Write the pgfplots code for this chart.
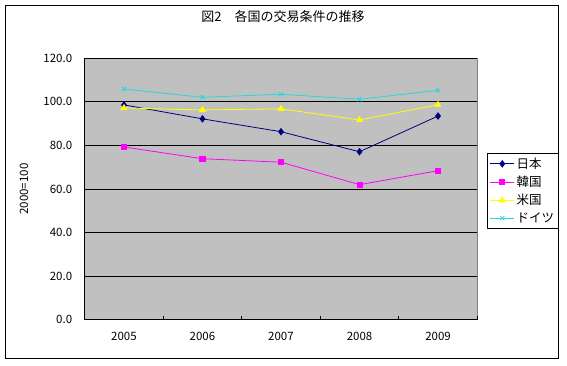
\documentclass[border=0pt]{standalone}
\usepackage{fontspec}
\setmainfont{Noto Sans CJK JP}
\usepackage{pgfplots}
\pgfplotsset{compat=1.18}
\definecolor{bg}{RGB}{192,192,192}
\definecolor{bordergray}{RGB}{128,128,128}
\definecolor{cjp}{RGB}{0,0,128}
\definecolor{ckr}{RGB}{255,0,255}
\definecolor{cus}{RGB}{255,255,0}
\definecolor{cde}{RGB}{40,215,220}
\begin{document}
\begin{tikzpicture}
\path (0pt,0pt) rectangle (567pt,365pt);
\draw[line width=0.9pt] (5.3pt,6.7pt) rectangle (558.3pt,359.7pt);
\begin{axis}[
  at={(84.7pt,45.3pt)}, anchor=south west,
  scale only axis, width=392.6pt, height=261.4pt,
  xmin=0.5, xmax=5.5, ymin=0, ymax=120,
  enlargelimits=false,
  xtick={0.5,1.5,...,5.5}, x tick label as interval,
  xticklabels={2005,2006,2007,2008,2009},
  ytick={0,20,...,120},
  yticklabel style={/pgf/number format/fixed, /pgf/number format/fixed zerofill, /pgf/number format/precision=1, xshift=-9pt},
  /pgf/number format/assume math mode=true,
  ticklabel style={font=\fontsize{11.5}{13}\selectfont},
  xticklabel style={yshift=-9pt},
  ymajorgrids, major grid style={black, line width=0.8pt},
  axis x line*=bottom, axis y line*=left,
  axis line style={black, line width=0.8pt, -},
  tick align=inside, major tick length=4pt,
  tick style={black, line width=0.8pt},
  axis background/.style={fill=bg, draw=bordergray, line width=0.8pt},
  ylabel={2000=100},
  ylabel style={at={(axis description cs:-0.1546,0.5)}, anchor=center, font=\fontsize{11.5}{13}\selectfont},
  legend style={at={(axis description cs:1.0247,0.6377)}, anchor=north west,
    draw=black, line width=0.7pt, font=\fontsize{12.5}{14}\selectfont,
    row sep=2.2pt, inner sep=2.5pt, cells={anchor=west}},
  legend image code/.code={\draw[mark repeat=2,mark phase=2,#1] plot coordinates {(0pt,0pt) (12pt,0pt) (24pt,0pt)};},
]
\addplot[cjp, line width=0.8pt, mark=diamond*, mark size=3.2pt] coordinates {(1,98.6) (2,92.2) (3,86.3) (4,77.1) (5,93.5)};
\addlegendentry{日本}
\addplot[ckr, line width=0.8pt, mark=square*, mark size=2.6pt] coordinates {(1,79.3) (2,73.9) (3,72.3) (4,62.0) (5,68.4)};
\addlegendentry{韓国}
\addplot[cus, line width=0.8pt, mark=triangle*, mark size=3.3pt] coordinates {(1,97.2) (2,96.3) (3,96.8) (4,91.7) (5,98.7)};
\addlegendentry{米国}
\addplot[cde, line width=0.8pt, mark=x, mark size=3pt] coordinates {(1,105.9) (2,102.1) (3,103.5) (4,101.2) (5,105.3)};
\addlegendentry{ドイツ}
\end{axis}
\node[font=\fontsize{13}{15}\selectfont] at (283pt,348pt) {図2　各国の交易条件の推移};
\end{tikzpicture}
\end{document}
